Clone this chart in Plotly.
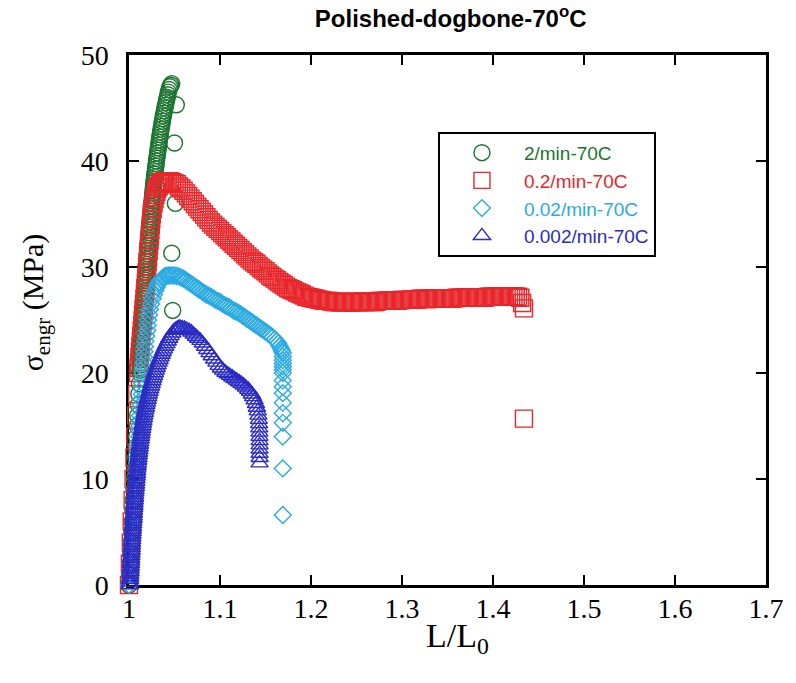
import plotly.graph_objects as go

# Engineering stress vs. stretch ratio, polished dogbone specimens at 70 C
series_names = ["2/min-70C", "0.2/min-70C", "0.02/min-70C", "0.002/min-70C"]
series_colors = ["#1c7430", "#e8262b", "#2aaae2", "#2b2bc4"]
series_symbols = ["circle-open", "square-open", "diamond-open", "triangle-up-open"]
series_sizes = [16, 17, 13, 15]

# 2/min
rate2_x = [1.0000, 1.0006, 1.0012, 1.0018, 1.0024, 1.0030, 1.0036, 1.0042, 1.0048, 1.0054,
           1.0060, 1.0066, 1.0072, 1.0078, 1.0084, 1.0090, 1.0096, 1.0102, 1.0108, 1.0114,
           1.0120, 1.0122, 1.0123, 1.0125, 1.0126, 1.0128, 1.0130, 1.0131, 1.0133, 1.0135,
           1.0136, 1.0138, 1.0139, 1.0141, 1.0143, 1.0144, 1.0146, 1.0148, 1.0150, 1.0151,
           1.0153, 1.0155, 1.0157, 1.0158, 1.0160, 1.0162, 1.0164, 1.0165, 1.0167, 1.0169,
           1.0171, 1.0172, 1.0174, 1.0176, 1.0178, 1.0180, 1.0182, 1.0184, 1.0186, 1.0188,
           1.0190, 1.0192, 1.0195, 1.0197, 1.0199, 1.0201, 1.0204, 1.0206, 1.0208, 1.0210,
           1.0213, 1.0215, 1.0218, 1.0220, 1.0223, 1.0225, 1.0228, 1.0231, 1.0234, 1.0236,
           1.0239, 1.0242, 1.0245, 1.0247, 1.0250, 1.0253, 1.0256, 1.0259, 1.0262, 1.0265,
           1.0268, 1.0271, 1.0274, 1.0277, 1.0281, 1.0284, 1.0288, 1.0291, 1.0295, 1.0298,
           1.0302, 1.0306, 1.0310, 1.0314, 1.0318, 1.0322, 1.0326, 1.0330, 1.0334, 1.0338,
           1.0343, 1.0347, 1.0352, 1.0357, 1.0362, 1.0367, 1.0372, 1.0377, 1.0383, 1.0389,
           1.0395, 1.0401, 1.0407, 1.0413, 1.0420, 1.0426, 1.0433, 1.0441, 1.0450, 1.0460,
           1.0470,
           1.052, 1.050, 1.051, 1.047, 1.048]
rate2_y = [0, 1, 2, 3, 4, 5, 6, 7, 8, 9,
           10, 11, 12, 13, 14, 15, 16, 17, 18, 19,
           20.00, 20.25, 20.50, 20.75, 21.00, 21.25, 21.50, 21.75, 22.00, 22.25,
           22.50, 22.75, 23.00, 23.25, 23.50, 23.75, 24.00, 24.25, 24.50, 24.75,
           25.00, 25.25, 25.50, 25.75, 26.00, 26.25, 26.50, 26.75, 27.00, 27.25,
           27.50, 27.75, 28.00, 28.25, 28.50, 28.75, 29.00, 29.25, 29.50, 29.75,
           30.00, 30.25, 30.50, 30.75, 31.00, 31.25, 31.50, 31.75, 32.00, 32.25,
           32.50, 32.75, 33.00, 33.25, 33.50, 33.75, 34.00, 34.25, 34.50, 34.75,
           35.00, 35.25, 35.50, 35.75, 36.00, 36.25, 36.50, 36.75, 37.00, 37.25,
           37.50, 37.75, 38.00, 38.25, 38.50, 38.75, 39.00, 39.25, 39.50, 39.75,
           40.00, 40.25, 40.50, 40.75, 41.00, 41.25, 41.50, 41.75, 42.00, 42.25,
           42.50, 42.75, 43.00, 43.25, 43.50, 43.75, 44.00, 44.25, 44.50, 44.75,
           45.00, 45.25, 45.50, 45.75, 46.00, 46.25, 46.50, 46.75, 47.00, 47.15,
           47.30,
           45.3, 41.7, 36.0, 31.3, 25.9]

# 0.2/min
rate02_x = [1.000, 1.001, 1.002, 1.003, 1.004, 1.005, 1.006, 1.007, 1.008, 1.009,
            1.0100, 1.0105, 1.0110, 1.0115, 1.0120, 1.0125, 1.0130, 1.0135, 1.0140, 1.0145,
            1.0150, 1.0155, 1.0160, 1.0165, 1.0170, 1.0175, 1.0180, 1.0185, 1.0190, 1.0195,
            1.0200, 1.0205, 1.0210, 1.0215, 1.0220, 1.0225, 1.0230, 1.0235, 1.0240, 1.0245,
            1.0250, 1.0260, 1.0270, 1.0280, 1.0290, 1.0300, 1.0310, 1.0325, 1.0340, 1.0355,
            1.0370, 1.0385,
            1.0400, 1.0425, 1.0450, 1.0475, 1.0500, 1.0525, 1.0550, 1.0575, 1.0600, 1.0625,
            1.0650, 1.0675, 1.0700, 1.0725, 1.0750, 1.0775, 1.0800, 1.0825, 1.0850, 1.0875,
            1.0900, 1.0925, 1.0950, 1.0975, 1.1000, 1.1025, 1.1050, 1.1075, 1.1100, 1.1125,
            1.1150, 1.1175, 1.1200, 1.1225, 1.1250, 1.1275, 1.1300, 1.1325, 1.1350, 1.1375,
            1.1400, 1.1425, 1.1450, 1.1475, 1.1500, 1.1525, 1.1550, 1.1575, 1.1600, 1.1625,
            1.1650, 1.1675, 1.1700, 1.1725, 1.1750, 1.1775, 1.1800, 1.1825, 1.1850, 1.1875,
            1.1900, 1.1925, 1.1950, 1.1975, 1.2000, 1.2025, 1.2050, 1.2075, 1.2100, 1.2125,
            1.2150, 1.2175, 1.2200, 1.2225, 1.2250, 1.2275, 1.2300, 1.2325, 1.2350, 1.2375,
            1.2400, 1.2425, 1.2450, 1.2475, 1.2500, 1.2525, 1.2550, 1.2575, 1.2600, 1.2625,
            1.2650, 1.2675, 1.2700, 1.2725, 1.2750, 1.2775, 1.2800, 1.2825, 1.2850, 1.2875,
            1.2900, 1.2925, 1.2950, 1.2975, 1.3000, 1.3025, 1.3050, 1.3075, 1.3100, 1.3125,
            1.3150, 1.3175, 1.3200, 1.3225, 1.3250, 1.3275, 1.3300, 1.3325, 1.3350, 1.3375,
            1.3400, 1.3425, 1.3450, 1.3475, 1.3500, 1.3525, 1.3550, 1.3575, 1.3600, 1.3625,
            1.3650, 1.3675, 1.3700, 1.3725, 1.3750, 1.3775, 1.3800, 1.3825, 1.3850, 1.3875,
            1.3900, 1.3925, 1.3950, 1.3975, 1.4000, 1.4025, 1.4050, 1.4075, 1.4100, 1.4125,
            1.4150, 1.4175, 1.4200, 1.4225, 1.4250, 1.4275, 1.4300, 1.4320, 1.4340, 1.4340]
rate02_y = [0, 2, 4, 6, 8, 10, 12, 14, 16, 18,
            20.0, 20.5, 21.0, 21.5, 22.0, 22.5, 23.0, 23.5, 24.0, 24.5,
            25.0, 25.5, 26.0, 26.5, 27.0, 27.5, 28.0, 28.5, 29.0, 29.5,
            30.0, 30.5, 31.0, 31.5, 32.0, 32.5, 33.0, 33.5, 34.0, 34.5,
            35.0, 35.5, 36.0, 36.4, 36.8, 37.1, 37.4, 37.6, 37.8, 37.9,
            38.0, 38.05,
            38.1, 38.1, 38.1, 38.0, 37.9, 37.8, 37.6, 37.4, 37.2, 36.95,
            36.7, 36.45, 36.2, 35.95, 35.7, 35.45, 35.2, 34.95, 34.7, 34.45,
            34.2, 34.0, 33.8, 33.6, 33.4, 33.2, 33.0, 32.8, 32.6, 32.4,
            32.2, 32.0, 31.8, 31.6, 31.4, 31.2, 31.0, 30.8, 30.6, 30.45,
            30.3, 30.1, 29.9, 29.75, 29.6, 29.4, 29.2, 29.05, 28.9, 28.75,
            28.6, 28.45, 28.3, 28.15, 28.0, 27.9, 27.8, 27.7, 27.6, 27.5,
            27.4, 27.3, 27.2, 27.15, 27.1, 27.05, 27.0, 26.95, 26.9, 26.85,
            26.8, 26.8, 26.8, 26.75, 26.7, 26.7, 26.7, 26.65, 26.7, 26.7,
            26.7, 26.7, 26.65, 26.7, 26.7, 26.7, 26.7, 26.75, 26.7, 26.7,
            26.75, 26.7, 26.7, 26.75, 26.8, 26.8, 26.8, 26.8, 26.85, 26.8,
            26.8, 26.85, 26.8, 26.85, 26.9, 26.9, 26.9, 26.9, 26.95, 26.9,
            26.9, 26.95, 27.0, 27.0, 27.0, 26.95, 27.0, 27.0, 27.05, 27.0,
            27.0, 27.0, 27.05, 27.0, 27.0, 27.05, 27.0, 27.05, 27.1, 27.1,
            27.1, 27.1, 27.15, 27.1, 27.1, 27.1, 27.15, 27.1, 27.1, 27.15,
            27.1, 27.15, 27.2, 27.2, 27.2, 27.2, 27.25, 27.2, 27.2, 27.25,
            27.2, 27.2, 27.2, 27.25, 27.2, 27.2, 27.1, 26.6, 26.1, 15.7]

# 0.02/min
rate002_x = [1.000, 1.001, 1.002, 1.0025, 1.003, 1.004, 1.005, 1.0055, 1.006, 1.007,
             1.0080, 1.0082, 1.0085, 1.0088, 1.0090, 1.0095, 1.0100, 1.0105, 1.0110, 1.0112,
             1.0115, 1.0118, 1.0120, 1.0125, 1.0130, 1.0135, 1.0140, 1.0142, 1.0145, 1.0148,
             1.0150, 1.0155, 1.0160, 1.0165, 1.0170, 1.0175, 1.0180, 1.0190, 1.0200, 1.0205,
             1.0210, 1.0220, 1.0230, 1.0245, 1.0260, 1.0275, 1.0290, 1.0305, 1.0320, 1.0335,
             1.0350, 1.0370, 1.0390, 1.0410, 1.0430, 1.0450,
             1.0475, 1.0500, 1.0525, 1.0550, 1.0575, 1.0600, 1.0625, 1.0650, 1.0675, 1.0700,
             1.0725, 1.0750, 1.0775, 1.0800, 1.0825, 1.0850, 1.0875, 1.0900, 1.0925, 1.0950,
             1.0975, 1.1000, 1.1025, 1.1050, 1.1075, 1.1100, 1.1125, 1.1150, 1.1175, 1.1200,
             1.1225, 1.1250, 1.1275, 1.1300, 1.1325, 1.1350, 1.1375, 1.1400, 1.1425, 1.1450,
             1.1475, 1.1500, 1.1525, 1.1550, 1.1575, 1.1600, 1.1620, 1.1640, 1.1655, 1.1670,
             1.1680,
             1.169, 1.169, 1.169, 1.169, 1.169, 1.169, 1.169, 1.169, 1.169, 1.169,
             1.169, 1.169, 1.169, 1.169, 1.169, 1.169]
rate002_y = [0, 1, 2, 3, 4, 5, 6, 7, 8, 9,
             10.0, 10.5, 11.0, 11.5, 12.0, 12.5, 13.0, 13.5, 14.0, 14.5,
             15.0, 15.5, 16.0, 16.5, 17.0, 17.5, 18.0, 18.5, 19.0, 19.5,
             20.0, 20.5, 21.0, 21.5, 22.0, 22.5, 23.0, 23.5, 24.0, 24.5,
             25.0, 25.5, 26.0, 26.5, 27.0, 27.4, 27.8, 28.1, 28.4, 28.6,
             28.8, 28.95, 29.1, 29.15, 29.2, 29.2,
             29.2, 29.2, 29.15, 29.1, 29.0, 28.9, 28.75, 28.6, 28.45, 28.3,
             28.15, 28.0, 27.85, 27.7, 27.55, 27.4, 27.3, 27.2, 27.05, 26.9,
             26.8, 26.7, 26.55, 26.4, 26.3, 26.2, 26.05, 25.9, 25.8, 25.7,
             25.55, 25.4, 25.25, 25.1, 24.95, 24.8, 24.65, 24.5, 24.35, 24.2,
             24.05, 23.9, 23.75, 23.6, 23.4, 23.2, 23.0, 22.8, 22.55, 22.3,
             22.1,
             21.9, 21.55, 21.2, 20.9, 20.6, 20.3, 20.0, 19.3, 18.7, 18.1,
             17.2, 16.2, 15.3, 14.0, 11.0, 6.6]

# 0.002/min
rate0002_x = [1.0010, 1.00115, 1.0013, 1.00145, 1.0016, 1.00175, 1.0019, 1.00205, 1.0022, 1.00235,
              1.0025, 1.00265, 1.0028, 1.00295, 1.0031, 1.00325, 1.0034, 1.00355, 1.0037, 1.0039,
              1.0041, 1.00425, 1.0044, 1.0046, 1.0048, 1.0050, 1.0052, 1.0054, 1.0056, 1.0058,
              1.0060, 1.0062, 1.0064, 1.0066, 1.0068, 1.00705, 1.0073, 1.00755, 1.0078, 1.00805,
              1.0083, 1.00855, 1.0088, 1.00905, 1.0093, 1.0096, 1.0099, 1.0102, 1.0105, 1.0108,
              1.0111, 1.01145, 1.0118, 1.01215, 1.0125, 1.0129, 1.0133, 1.0137, 1.0141, 1.01455,
              1.0150, 1.01545, 1.0159, 1.0164, 1.0169, 1.01745, 1.0180, 1.0186, 1.0192, 1.01985,
              1.0205, 1.0212, 1.0219, 1.02265, 1.0234, 1.0242, 1.0250, 1.02585, 1.0267, 1.0276,
              1.0285, 1.0295, 1.0305, 1.03155, 1.0326, 1.0337, 1.0348, 1.0360, 1.0372, 1.0385,
              1.0398, 1.0412, 1.0426, 1.0442, 1.0458, 1.0476, 1.0495, 1.0512, 1.0530, 1.0545,
              1.0560, 1.0585, 1.0610, 1.0635, 1.0660, 1.0685, 1.0710, 1.0735, 1.0760, 1.0785,
              1.0810, 1.0835, 1.0860, 1.0885, 1.0910, 1.0935, 1.0960, 1.0985, 1.1010, 1.1035,
              1.1060, 1.1085, 1.1110, 1.1135, 1.1160, 1.1185, 1.1210, 1.1235, 1.1260, 1.1285,
              1.1310, 1.1330, 1.1350, 1.1365, 1.1380, 1.1395, 1.1405, 1.1415, 1.1422, 1.1427,
              1.1430, 1.1432, 1.1433, 1.1434, 1.1435, 1.1435, 1.1435, 1.1435, 1.1435, 1.1435]
rate0002_y = [0.00, 0.25, 0.50, 0.75, 1.00, 1.25, 1.50, 1.75, 2.00, 2.25,
              2.50, 2.75, 3.00, 3.25, 3.50, 3.75, 4.00, 4.25, 4.50, 4.75,
              5.00, 5.25, 5.50, 5.75, 6.00, 6.25, 6.50, 6.75, 7.00, 7.25,
              7.50, 7.75, 8.00, 8.25, 8.50, 8.75, 9.00, 9.25, 9.50, 9.75,
              10.00, 10.25, 10.50, 10.75, 11.00, 11.25, 11.50, 11.75, 12.00, 12.25,
              12.50, 12.75, 13.00, 13.25, 13.50, 13.75, 14.00, 14.25, 14.50, 14.75,
              15.00, 15.25, 15.50, 15.75, 16.00, 16.25, 16.50, 16.75, 17.00, 17.25,
              17.50, 17.75, 18.00, 18.25, 18.50, 18.75, 19.00, 19.25, 19.50, 19.75,
              20.00, 20.25, 20.50, 20.75, 21.00, 21.25, 21.50, 21.75, 22.00, 22.25,
              22.50, 22.75, 23.00, 23.25, 23.50, 23.75, 24.00, 24.10, 24.20, 24.25,
              24.3, 24.25, 24.2, 24.1, 24.0, 23.85, 23.65, 23.45, 23.25, 23.05,
              22.8, 22.5, 22.2, 21.9, 21.6, 21.3, 21.0, 20.7, 20.45, 20.25,
              20.05, 19.9, 19.75, 19.6, 19.45, 19.3, 19.15, 19.0, 18.85, 18.65,
              18.45, 18.25, 18.0, 17.75, 17.45, 17.1, 16.75, 16.4, 16.0, 15.6,
              15.2, 14.8, 14.4, 14.0, 13.6, 13.2, 12.8, 12.4, 12.0, 11.5]

xs = [rate2_x, rate02_x, rate002_x, rate0002_x]
ys = [rate2_y, rate02_y, rate002_y, rate0002_y]

x_ticks = [1, 1.1, 1.2, 1.3, 1.4, 1.5, 1.6, 1.7]
y_ticks = [0, 10, 20, 30, 40, 50]

fig = go.Figure()
for name, color, sym, size, x, y in zip(series_names, series_colors, series_symbols,
                                         series_sizes, xs, ys):
    fig.add_trace(go.Scatter(
        x=x, y=y, mode="markers", cliponaxis=False,
        name=f"<span style='color:{color}'>{name}</span>",
        marker=dict(symbol=sym, size=size, color=color, line=dict(width=1.4, color=color)),
    ))

serif = "Liberation Serif, Times New Roman, serif"
sans = "Liberation Sans, Arial, sans-serif"

axis_common = dict(
    showgrid=False, zeroline=False, showline=True, linecolor="black", linewidth=2.5,
    mirror="ticks", ticks="inside", ticklen=10, tickwidth=2, tickcolor="black",
    tickfont=dict(family=serif, size=28, color="black"), layer="below traces",
)

fig.update_layout(
    width=796, height=683,
    margin=dict(l=129, r=28, t=55, b=98),
    paper_bgcolor="white", plot_bgcolor="white",
    title=dict(text="<b>Polished-dogbone-70<sup>o</sup>C</b>",
               font=dict(family=sans, size=24, color="black"),
               x=0.505, xref="paper", xanchor="center",
               y=1 - 19 / 683, yref="container", yanchor="middle"),
    xaxis=dict(range=[1, 1.7], tickvals=x_ticks, ticktext=[str(v) for v in x_ticks],
               ticklabelstandoff=-3, **axis_common),
    yaxis=dict(range=[0, 50], tickvals=y_ticks, ticklabelstandoff=12, **axis_common),
    legend=dict(x=0.485, y=0.855, xanchor="left", yanchor="top",
                bgcolor="white", bordercolor="black", borderwidth=2,
                font=dict(family=sans, size=19), itemwidth=74,
                entrywidth=150, entrywidthmode="pixels",
                tracegroupgap=0),
    showlegend=True,
    annotations=[
        dict(text="L/L<sub>0</sub>", xref="paper", yref="paper",
             x=0.515, y=-0.057, xanchor="center", yanchor="top", showarrow=False,
             font=dict(family=serif, size=34, color="black")),
        dict(text="σ<sub>engr</sub> (MPa)", xref="paper", yref="paper", textangle=-90,
             x=-0.147, y=0.534, xanchor="center", yanchor="middle", showarrow=False,
             font=dict(family=serif, size=30, color="black")),
    ],
)

fig.write_html("out.html")
